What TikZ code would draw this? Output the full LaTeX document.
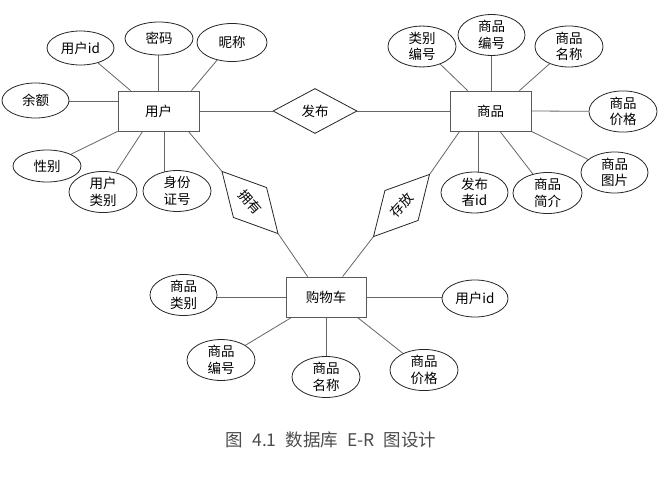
\documentclass[tikz,border=0pt]{standalone}
\usepackage{fontspec}
\setmainfont{Noto Sans CJK SC}
\usetikzlibrary{shapes.geometric,calc}
\pgfdeclarelayer{bg}
\pgfsetlayers{bg,main}
\newcommand\fsz{\fontsize{13.5}{16.5}\selectfont}
\newcommand\capsp{\hspace{9pt}}
\tikzset{
 ent/.style={draw=black!65, fill=white, line width=0.8pt, rectangle, minimum width=81pt, minimum height=40pt, inner sep=0pt, font=\fsz},
 attr/.style={draw=black!85, fill=white, line width=0.8pt, ellipse, minimum width=68pt, minimum height=37pt, inner sep=0pt, align=center, font=\fsz},
 rel/.style={draw=black!85, fill=white, line width=0.8pt, diamond, minimum width=84pt, minimum height=45pt, inner sep=0pt, font=\fsz},
 conn/.style={draw=black!60, line width=0.8pt},
}
\begin{document}
\begin{tikzpicture}[x=1pt,y=-1pt]
\useasboundingbox (0,0) rectangle (666,489);
% user entity
\node[ent] (usr) at (158.5,111) {用户};
\node[attr, minimum width=67pt, minimum height=34pt] (uid) at (80.5,48) {用户id};
\node[attr, minimum height=33pt] (pw) at (159,38.5) {密码};
\node[attr, minimum width=70pt, minimum height=38pt] (nick) at (232,42.5) {昵称};
\node[attr, minimum width=67pt, minimum height=35pt] (bal) at (35.5,100.5) {余额};
\node[attr, minimum height=32pt] (sex) at (47,166) {性别};
\node[attr, minimum height=38pt] (utype) at (103,192) {用户\\类别};
\node[attr, minimum height=38pt] (idn) at (177,191) {身份\\证号};
% relation publish
\node[rel] (fb) at (315,111) {发布};
% goods entity
\node[ent] (goods) at (490.5,111) {商品};
\node[attr] (cno) at (422,46.5) {类别\\编号};
\node[attr, minimum width=67pt, minimum height=36pt] (gno) at (491.5,35) {商品\\编号};
\node[attr] (gname) at (569,46.5) {商品\\名称};
\node[attr] (gprice) at (623,111.5) {商品\\价格};
\node[attr, minimum width=67pt, minimum height=39pt] (gpic) at (614.5,172.5) {商品\\图片};
\node[attr, minimum width=69pt, minimum height=40pt] (gdesc) at (547.5,193) {商品\\简介};
\node[attr, minimum width=67pt, minimum height=39pt] (pubid) at (474.5,192.5) {发布\\者id};
% rotated relations
\node[rel, rotate=-48] (yy) at (250,202.5) {拥有};
\node[rel, rotate=48] (cf) at (401.5,205.5) {存放};
% cart entity
\node[ent, minimum width=80pt] (cart) at (326,297) {购物车};
\node[attr, minimum width=67pt, minimum height=36pt] (ccat) at (183.5,295) {商品\\类别};
\node[attr, minimum width=66pt] (cuid) at (475,298.5) {用户id};
\node[attr, minimum height=36pt] (cno2) at (221,360) {商品\\编号};
\node[attr, minimum height=40pt] (cname) at (326,377) {商品\\名称};
\node[attr, minimum height=40pt] (cprice) at (424,370) {商品\\价格};
% caption
\node[font=\fontsize{17.5}{19}\selectfont, text=black!70, inner sep=0pt] (cap) at (331,440) {图\capsp 4.1\capsp 数据库\capsp E-R\capsp 图设计};
\begin{pgfonlayer}{bg}
\fill[white] (0,0) rectangle (666,489);
% user lines
\draw[conn] (uid) -- ($(usr.north west)+(13,0)$);
\draw[conn] (usr.north) -- (usr.north |- pw.center);
\draw[conn] (nick) -- ($(usr.north east)+(-8,0)$);
\coordinate (balp) at ($(usr.west)+(0,-10)$);
\draw[conn] (balp) -- (balp -| bal.center);
\draw[conn] (sex) -- (usr.south west);
\draw[conn] (utype) -- ($(usr.south west)+(25,0)$);
\coordinate (idp) at ($(usr.south)+(5.5,0)$);
\draw[conn] (idp) -- (idp |- idn.center);
\draw[conn] (usr.east) -- (fb.west);
\draw[conn] (fb.east) -- (goods.west);
\draw[conn] ($(usr.south east)+(-11,0)$) -- (yy.west);
\draw[conn] (yy.east) -- ($(cart.north west)+(22,0)$);
% goods lines
\draw[conn] (cno) -- ($(goods.north west)+(18,0)$);
\coordinate (gnop) at ($(goods.north)+(1,0)$);
\draw[conn] (gnop) -- (gnop |- gno.center);
\draw[conn] (gname) -- ($(goods.north east)+(-12,0)$);
\draw[conn] (goods.east) -- (gprice);
\draw[conn] (goods.south east) -- (gpic);
\draw[conn] ($(goods.south)+(9.5,0)$) -- (gdesc);
\coordinate (pubp) at ($(goods.south)+(-12.5,0)$);
\draw[conn] (pubp) -- (pubp |- pubid.center);
\draw[conn] ($(goods.south west)+(10,0)$) -- (cf.east);
\draw[conn] (cf.west) -- ($(cart.north west)+(57,0)$);
% cart lines
\draw[conn] (cart.west) -- (cart.west -| ccat.center);
\draw[conn] (cart.east) -- (cart.east -| cuid.center);
\draw[conn] ($(cart.south west)+(6,0)$) -- (cno2);
\draw[conn] (cart.south) -- (cart.south |- cname.center);
\draw[conn] ($(cart.south east)+(-9,0)$) -- (cprice);
\end{pgfonlayer}
\end{tikzpicture}
\end{document}
